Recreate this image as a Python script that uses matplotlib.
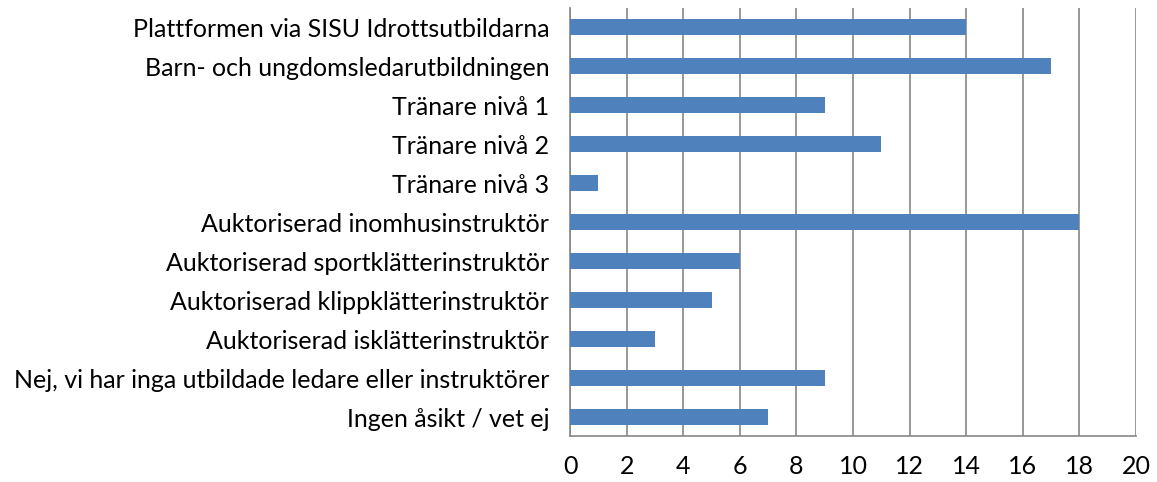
import matplotlib
matplotlib.use("Agg")
import matplotlib.pyplot as plt

categories = [
    "Plattformen via SISU Idrottsutbildarna",
    "Barn- och ungdomsledarutbildningen",
    "Tränare nivå 1",
    "Tränare nivå 2",
    "Tränare nivå 3",
    "Auktoriserad inomhusinstruktör",
    "Auktoriserad sportklätterinstruktör",
    "Auktoriserad klippklätterinstruktör",
    "Auktoriserad isklätterinstruktör",
    "Nej, vi har inga utbildade ledare eller instruktörer",
    "Ingen åsikt / vet ej",
]
values = [14, 17, 9, 11, 1, 18, 6, 5, 3, 9, 7]
xticks = list(range(0, 21, 2))

plt.rcParams['font.family'] = ['Lato', 'DejaVu Sans']

fig = plt.figure(figsize=(11.57, 4.82), dpi=100)
ax = fig.add_axes([0.4927, 0.0944, 0.9818 - 0.4927, 0.9844 - 0.0944])

ypos = list(range(len(categories)))
ax.barh(ypos, values, height=0.41, color="#4F81BD", zorder=3)
ax.set_ylim(len(categories) - 0.5, -0.5)
ax.set_xlim(0, 20)
ax.set_xticks(xticks)
ax.set_xticklabels([str(t) for t in xticks], fontsize=18)
ax.set_yticks(ypos)
ax.set_yticklabels(categories, fontsize=18)
ax.tick_params(axis='both', length=0, colors='#000000')
ax.tick_params(axis='x', pad=13)
ax.tick_params(axis='y', pad=15)
ax.grid(axis='x', color='#868686', linewidth=1.2, zorder=0)
for s in ['top', 'right']:
    ax.spines[s].set_visible(False)
for s in ['left', 'bottom']:
    ax.spines[s].set_color('#868686')
    ax.spines[s].set_linewidth(1.2)

fig.savefig("out.png", dpi=100)
